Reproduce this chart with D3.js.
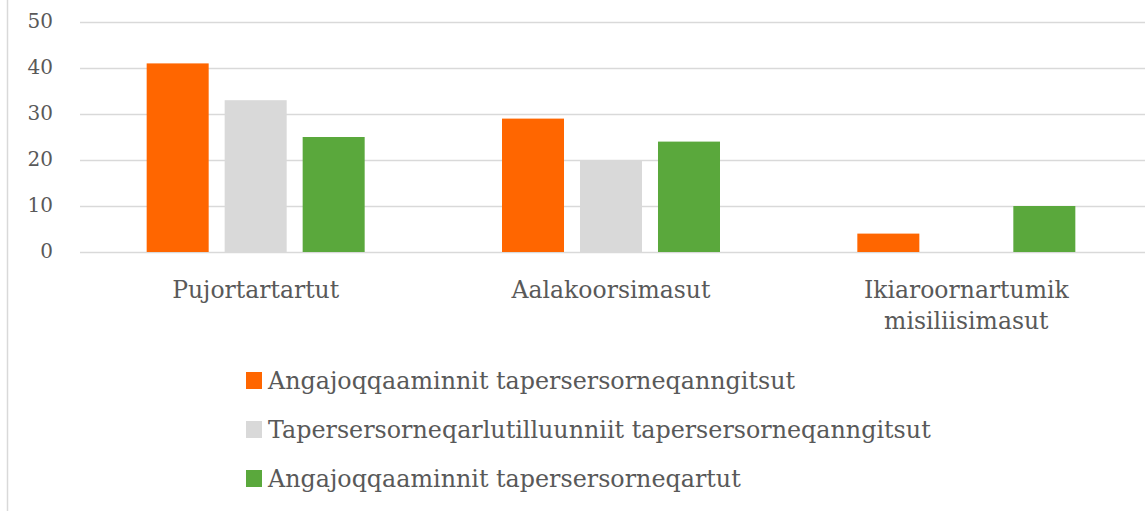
<!DOCTYPE html>
<html>
<head>
<meta charset="utf-8">
<script src="https://cdn.jsdelivr.net/npm/d3@7"></script>
<style>
  html, body { margin: 0; padding: 0; background: #fff; }
  svg { display: block; }
  text { font-family: "DejaVu Serif", "Liberation Serif", serif; fill: #595959; }
</style>
</head>
<body>
<div id="chart"></div>
<script>
  // Chart data
  const categories = ['Pujortartartut', 'Aalakoorsimasut', 'Ikiaroornartumik misiliisimasut'];
  const categoryLines = [['Pujortartartut'], ['Aalakoorsimasut'], ['Ikiaroornartumik', 'misiliisimasut']];
  const seriesNames = [
    'Angajoqqaaminnit tapersersorneqanngitsut',
    'Tapersersorneqarlutilluunniit tapersersorneqanngitsut',
    'Angajoqqaaminnit tapersersorneqartut'
  ];
  const seriesColors = ['#ff6600', '#d9d9d9', '#5aa83c'];
  const notSupported = [41, 29, 4];
  const eitherOr = [33, 20, 0];
  const supported = [25, 24, 10];
  const yTicks = [0, 10, 20, 30, 40, 50];

  const seriesValues = [notSupported, eitherOr, supported];

  const width = 1145, height = 511;
  const plot = { left: 78, right: 1144, top: 22, bottom: 252 };

  const svg = d3.select('#chart').append('svg')
    .attr('width', width)
    .attr('height', height);

  // chart frame left edge
  svg.append('line')
    .attr('x1', 7.5).attr('x2', 7.5)
    .attr('y1', 0).attr('y2', height)
    .attr('stroke', '#d9d9d9').attr('stroke-width', 1.5);

  const y = d3.scaleLinear().domain([0, 50]).range([plot.bottom, plot.top]);
  const x0 = d3.scaleBand().domain(categories).range([plot.left, plot.right]);
  const groupWidth = 218;
  const x1 = d3.scaleBand().domain(seriesNames).range([0, groupWidth]).paddingInner(0.205);

  // gridlines
  svg.append('g').selectAll('line')
    .data(yTicks)
    .enter().append('line')
    .attr('x1', 80).attr('x2', width)
    .attr('y1', d => Math.round(y(d)) + 0.5).attr('y2', d => Math.round(y(d)) + 0.5)
    .attr('stroke', '#d9d9d9').attr('stroke-width', 1.5);

  // y tick labels
  svg.append('g').selectAll('text')
    .data(yTicks)
    .enter().append('text')
    .attr('x', 53)
    .attr('y', d => y(d) + 6)
    .attr('text-anchor', 'end')
    .attr('font-size', 20)
    .style('font-variant-numeric', 'oldstyle-nums')
    .text(d => d);

  // bars
  const rows = [];
  categories.forEach((c, ci) => {
    seriesNames.forEach((s, si) => {
      rows.push({ cat: c, series: s, value: seriesValues[si][ci], color: seriesColors[si] });
    });
  });

  svg.append('g').selectAll('rect')
    .data(rows.filter(d => d.value > 0))
    .enter().append('rect')
    .attr('x', d => x0(d.cat) + (x0.bandwidth() - groupWidth) / 2 + x1(d.series))
    .attr('width', x1.bandwidth())
    .attr('y', d => y(d.value))
    .attr('height', d => y(0) - y(d.value))
    .attr('fill', d => d.color);

  // category labels
  const catG = svg.append('g').selectAll('text')
    .data(categories)
    .enter().append('text')
    .attr('text-anchor', 'middle')
    .attr('font-size', 23.5)
    .attr('transform', d => `translate(${x0(d) + x0.bandwidth() / 2}, 298)`);
  catG.selectAll('tspan')
    .data((d, i) => categoryLines[i])
    .enter().append('tspan')
    .attr('x', 0)
    .attr('dy', (d, i) => i === 0 ? 0 : 31)
    .text(d => d);

  // legend
  const legend = svg.append('g').selectAll('g')
    .data(seriesNames)
    .enter().append('g')
    .attr('transform', (d, i) => `translate(246, ${381 + i * 49})`);
  legend.append('rect')
    .attr('x', 0).attr('y', -9)
    .attr('width', 16).attr('height', 17)
    .attr('fill', (d, i) => seriesColors[i]);
  legend.append('text')
    .attr('x', 22)
    .attr('y', 8)
    .attr('font-size', 23.8)
    .text(d => d);
</script>
</body>
</html>
